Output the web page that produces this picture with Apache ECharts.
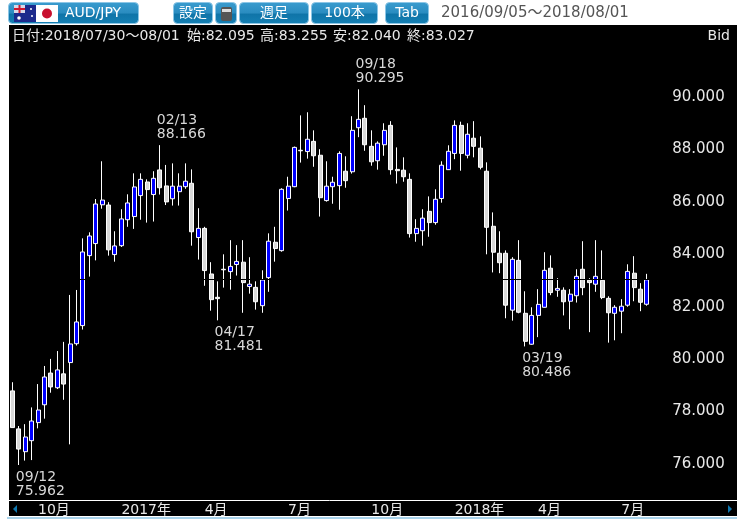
<!DOCTYPE html>
<html>
<head>
<meta charset="utf-8">
<title>AUD/JPY</title>
<script src="https://cdn.jsdelivr.net/npm/echarts@6/dist/echarts.min.js"></script>
<style>
html, body { margin: 0; padding: 0; background: #fff; }
#chart { width: 737px; height: 519px; }
</style>
</head>
<body>
<div id="chart"></div>
<script>
// weekly candles, 2016/09/05 .. 2018/07/30
var categories = [
  '09/05','09/12','09/19','09/26','10/03','10/10','10/17','10/24','10/31','11/07','11/14','11/21','11/28','12/05','12/12','12/19','12/26',
  '01/02','01/09','01/16','01/23','01/30','02/06','02/13','02/20','02/27','03/06','03/13','03/20','03/27','04/03','04/10','04/17','04/24',
  '05/01','05/08','05/15','05/22','05/29','06/05','06/12','06/19','06/26','07/03','07/10','07/17','07/24','07/31','08/07','08/14','08/21',
  '08/28','09/04','09/11','09/18','09/25','10/02','10/09','10/16','10/23','10/30','11/06','11/13','11/20','11/27','12/04','12/11','12/18','12/25',
  '01/01','01/08','01/15','01/22','01/29','02/05','02/12','02/19','02/26','03/05','03/12','03/19','03/26','04/02','04/09','04/16','04/23','04/30',
  '05/07','05/14','05/21','05/28','06/04','06/11','06/18','06/25','07/02','07/09','07/16','07/23','07/30'
];
var opens = [
  78.79,77.34,76.47,76.89,77.58,78.26,79.47,78.91,79.44,79.87,80.59,81.28,83.95,84.41,85.89,85.88,83.99,84.33,85.32,85.44,
  86.24,86.76,86.28,87.22,86.61,86.12,86.39,86.58,86.71,84.64,84.99,83.25,82.36,83.43,83.34,83.61,83.70,82.77,82.74,82.04,
  83.11,84.46,84.14,86.13,86.58,87.97,87.92,88.31,87.78,86.05,86.58,86.62,87.17,87.15,88.83,89.19,88.12,87.57,88.18,88.92,
  87.24,87.21,86.86,84.79,84.90,85.64,85.21,86.13,87.23,87.85,88.92,87.78,88.43,88.05,87.17,85.07,84.04,84.04,81.87,83.77,
  81.75,80.57,81.67,81.98,83.47,82.63,82.63,82.21,82.42,83.43,83.01,82.86,83.01,82.32,81.75,81.83,82.06,83.28,82.67,82.095
];
var closes = [
  77.39,76.57,77.03,77.64,78.06,79.32,78.94,79.59,79.05,80.58,81.42,84.09,84.70,85.92,86.07,84.17,84.32,85.35,85.96,86.57,
  86.86,86.47,86.90,86.54,86.00,86.60,86.60,86.79,84.86,84.99,83.38,82.27,82.31,83.41,83.54,83.73,82.92,82.86,82.19,83.02,
  84.50,84.22,86.48,86.60,88.08,87.95,88.39,87.76,86.16,86.60,86.75,87.85,86.81,88.73,89.15,88.18,87.53,88.24,88.73,87.23,
  87.19,86.96,84.79,84.99,85.38,85.21,86.10,87.40,87.93,88.92,87.85,88.58,88.12,87.32,85.03,84.08,83.68,82.06,83.81,81.79,
  80.68,81.67,82.09,83.39,82.54,82.70,82.19,82.48,83.16,82.73,82.92,83.16,82.35,81.77,81.98,82.02,83.35,82.73,82.17,83.027
];
var lows = [
  77.39,75.962,76.13,76.15,77.36,77.73,78.72,78.86,78.45,76.75,80.52,81.13,83.15,83.77,85.74,83.95,83.72,84.28,85.05,84.97,
  85.32,85.21,85.25,86.28,85.88,85.86,85.86,86.50,84.33,83.80,82.80,81.85,81.481,82.73,82.65,83.19,81.77,82.50,81.89,81.77,
  82.57,83.72,84.10,85.67,86.56,87.50,87.65,87.34,85.44,86.01,85.93,85.70,86.54,87.08,88.47,87.95,87.38,87.23,87.76,87.04,
  86.70,86.77,84.64,84.48,84.33,84.67,85.13,85.97,87.22,87.63,87.19,87.66,87.70,87.24,84.00,83.31,83.28,81.56,81.47,81.75,
  80.486,80.55,80.84,81.97,82.44,82.38,81.67,81.14,82.16,82.44,81.03,82.57,82.29,80.63,80.72,80.99,82.00,82.21,81.83,82.04
];
var highs = [
  79.12,77.45,77.52,78.16,79.05,79.74,80.01,80.31,80.66,82.45,82.64,84.61,84.84,86.11,87.55,85.99,84.88,85.72,86.29,87.09,
  87.09,86.86,87.17,88.166,87.41,87.47,87.09,87.47,87.24,85.76,85.05,83.70,82.97,84.00,84.54,84.35,84.54,83.89,82.97,83.39,
  84.80,85.05,86.52,86.96,88.11,89.30,89.42,88.73,88.01,87.55,86.96,87.93,87.74,89.27,90.295,89.69,88.73,88.31,89.00,89.08,
  88.08,87.70,87.09,85.34,85.72,86.21,86.48,87.55,88.16,89.11,89.06,89.00,89.08,88.50,87.51,85.60,84.88,84.15,83.89,84.54,
  82.59,81.98,82.67,84.08,83.96,83.09,82.74,82.67,83.43,84.50,83.09,84.54,84.15,82.40,82.06,82.29,83.62,83.93,82.90,83.255
];
var priceTicks = [76, 78, 80, 82, 84, 86, 88, 90];
var timeTickIndex = [4, 17, 30, 43, 56, 69, 82, 95];
var timeTickLabels = ['10月', '2017年', '4月', '7月', '10月', '2018年', '4月', '7月'];
var markIndex = [1, 23, 32, 54, 80];
var markValue = [75.962, 88.166, 81.481, 90.295, 80.486];
var markSide = ['bottom', 'top', 'bottom', 'top', 'bottom'];
var lastClose = 83.027;
var infoParts = ['日付:2018/07/30～08/01', '始:82.095', '高:83.255', '安:82.040', '終:83.027'];
var infoX = [12, 187, 260, 333, 407];
var dateRange = '2016/09/05～2018/08/01';

var FONT = '"DejaVu Sans","Noto Sans CJK JP",sans-serif';

var candleData = categories.map(function (c, i) {
  return [opens[i], closes[i], lows[i], highs[i]];
});

var markData = markIndex.map(function (idx, i) {
  return {
    coord: [idx, markValue[i]],
    label: {
      position: markSide[i],
      align: 'left',
      offset: [-3, markSide[i] === 'top' ? 1 : 0]
    }
  };
});

// toolbar button
function btn(x, w, label, textX) {
  var out = [{
    type: 'rect',
    shape: { x: x + 0.5, y: 2.5, width: w - 1, height: 21, r: 4 },
    style: {
      fill: new echarts.graphic.LinearGradient(0, 0, 0, 1, [
        { offset: 0, color: '#3a9ccf' },
        { offset: 0.5, color: '#2a8cc0' },
        { offset: 0.55, color: '#0f74a8' },
        { offset: 1, color: '#1480b4' }
      ]),
      stroke: '#8cc6e6',
      lineWidth: 1
    },
    z: 10
  }];
  if (label) {
    out.push({
      type: 'text',
      style: { text: label, x: textX === undefined ? x + w / 2 : textX, y: 13, font: '14px ' + FONT, fill: '#fff', align: 'center', verticalAlign: 'middle' },
      z: 11
    });
  }
  return out;
}

var graphics = [
  { type: 'rect', shape: { x: 9, y: 25, width: 728, height: 491 }, style: { fill: '#000' }, z: -10 },
  { type: 'line', shape: { x1: 7, y1: 518, x2: 737, y2: 518 }, style: { stroke: '#a8d2ea', lineWidth: 2 }, z: -9 },
  { type: 'line', shape: { x1: 650, y1: 500.5, x2: 737, y2: 500.5 }, style: { stroke: '#fff', lineWidth: 1 }, z: 5 },
  { type: 'polygon', shape: { points: [[17, 505], [17, 513], [13, 509]] }, style: { fill: '#0e78b0' }, z: 5 },
  { type: 'polygon', shape: { points: [[728, 505], [728, 513], [732, 509]] }, style: { fill: '#0e78b0' }, z: 5 },
  { type: 'text', style: { text: 'Bid', x: 730, y: 36, font: '14px ' + FONT, fill: '#e8e8e8', align: 'right', verticalAlign: 'middle' }, z: 5 },
  { type: 'text', style: { text: dateRange, x: 441, y: 13, font: '15px ' + FONT, fill: '#555', verticalAlign: 'middle' }, z: 5 }
];
infoParts.forEach(function (t, i) {
  graphics.push({ type: 'text', style: { text: t, x: infoX[i], y: 36, font: '14px ' + FONT, fill: '#e8e8e8', verticalAlign: 'middle' }, z: 5 });
});
graphics = graphics
  .concat(btn(8, 131, 'AUD/JPY', 93))
  .concat(btn(173, 40, '設定'))
  .concat(btn(215, 22))
  .concat(btn(239, 70, '週足'))
  .concat(btn(311, 67, '100本'))
  .concat(btn(385, 44, 'Tab'));
// flags and calculator icon
graphics = graphics.concat([
  { type: 'rect', shape: { x: 14, y: 5, width: 22, height: 17 }, style: { fill: '#1c2a8c' }, z: 12 },
  { type: 'rect', shape: { x: 14, y: 5, width: 11, height: 8 }, style: { fill: '#d8d8e8' }, z: 13 },
  { type: 'line', shape: { x1: 19.5, y1: 5, x2: 19.5, y2: 13 }, style: { stroke: '#d01830', lineWidth: 2 }, z: 14 },
  { type: 'line', shape: { x1: 14, y1: 9, x2: 25, y2: 9 }, style: { stroke: '#d01830', lineWidth: 2 }, z: 14 },
  { type: 'circle', shape: { cx: 19, cy: 18, r: 1.8 }, style: { fill: '#fff' }, z: 13 },
  { type: 'circle', shape: { cx: 31, cy: 9, r: 1 }, style: { fill: '#fff' }, z: 13 },
  { type: 'circle', shape: { cx: 32, cy: 16, r: 1 }, style: { fill: '#fff' }, z: 13 },
  { type: 'rect', shape: { x: 36, y: 5, width: 22, height: 17 }, style: { fill: '#fff' }, z: 12 },
  { type: 'circle', shape: { cx: 47, cy: 13.5, r: 5 }, style: { fill: '#c8102e' }, z: 13 },
  { type: 'rect', shape: { x: 221, y: 7, width: 11, height: 14, r: 2 }, style: { fill: '#555' }, z: 12 },
  { type: 'rect', shape: { x: 222, y: 9, width: 9, height: 3 }, style: { fill: '#ddd' }, z: 13 }
]);

var chart = echarts.init(document.getElementById('chart'), null, { renderer: 'canvas' });
chart.setOption({
  animation: false,
  backgroundColor: '#fff',
  graphic: graphics,
  grid: { left: 9.2, width: 641, top: 25, height: 475, containLabel: false },
  xAxis: {
    type: 'category',
    data: categories,
    axisLine: { show: true, lineStyle: { color: '#fff', width: 1 } },
    axisTick: { show: false },
    splitLine: { show: false },
    axisLabel: {
      color: '#e8e8e8',
      fontFamily: FONT,
      fontSize: 14,
      margin: 3,
      align: 'left',
      hideOverlap: false,
      interval: function (index) { return timeTickIndex.indexOf(index) >= 0; },
      formatter: function (value, index) {
        var k = timeTickIndex.indexOf(index);
        return k >= 0 ? timeTickLabels[k] : '';
      }
    }
  },
  yAxis: {
    type: 'value',
    position: 'right',
    min: 74.627,
    max: 92.749,
    axisLine: { show: false },
    axisTick: { show: false },
    splitLine: { show: false },
    axisLabel: {
      customValues: priceTicks,
      color: '#e8e8e8',
      fontFamily: FONT,
      fontSize: 15,
      margin: 22,
      padding: [0, 0, 4, 0],
      formatter: function (v) { return v.toFixed(3); }
    }
  },
  series: [{
    type: 'candlestick',
    data: candleData,
    barWidth: 4.5,
    itemStyle: {
      color: '#0000ff',
      color0: '#d8d8d8',
      borderColor: '#ffffff',
      borderColor0: '#ffffff',
      borderWidth: 1
    },
    markLine: {
      silent: true,
      symbol: 'none',
      label: { show: false },
      lineStyle: { color: '#000', width: 1, type: 'solid' },
      data: [{ yAxis: lastClose }]
    },
    markPoint: {
      silent: true,
      symbol: 'circle',
      symbolSize: 0,
      label: {
        show: true,
        color: '#d8d8d8',
        fontFamily: FONT,
        fontSize: 14,
        lineHeight: 14,
        formatter: function (p) {
          var i = p.dataIndex;
          return categories[markIndex[i]] + '\n' + markValue[i].toFixed(3);
        }
      },
      data: markData
    }
  }]
});
</script>
</body>
</html>
